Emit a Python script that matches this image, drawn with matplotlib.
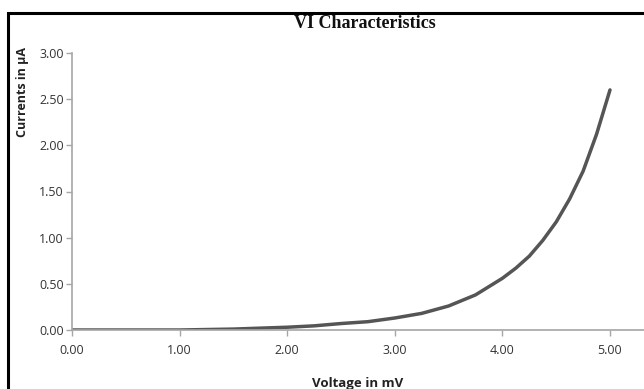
import matplotlib.pyplot as plt
from matplotlib.patches import Rectangle
from matplotlib.ticker import FormatStrFormatter, MultipleLocator

# values
voltage = [0.0, 0.5, 1.0, 1.5, 2.0, 2.25, 2.5, 2.75, 3.0, 3.25, 3.5, 3.75,
           4.0, 4.125, 4.25, 4.375, 4.5, 4.625, 4.75, 4.875, 5.0]
current = [0.00, 0.00, 0.00, 0.01, 0.03, 0.045, 0.07, 0.09, 0.13, 0.18, 0.26, 0.38,
           0.56, 0.67, 0.80, 0.97, 1.17, 1.42, 1.72, 2.12, 2.60]

W, H = 644, 389
fig = plt.figure(figsize=(W / 100, H / 100), dpi=100)

# black frame around the chart (cut off at the right and bottom)
fig.patches.append(Rectangle((8 / W, -0.2), 1.2, 1 - 13 / H + 0.2,
                             transform=fig.transFigure, fill=False,
                             edgecolor="black", linewidth=2.2, clip_on=False))

ax = fig.add_axes([72 / W, 1 - 330 / H, 572 / W, 277 / H])
ax.plot(voltage, current, color="#555555", linewidth=2.5, solid_capstyle="round")

ax.set_xlim(0, 572 / 107.6)
ax.set_ylim(0, 3.0)
ax.xaxis.set_major_locator(MultipleLocator(1.0))
ax.yaxis.set_major_locator(MultipleLocator(0.5))
ax.xaxis.set_major_formatter(FormatStrFormatter("%.2f"))
ax.yaxis.set_major_formatter(FormatStrFormatter("%.2f"))

for side in ["top", "right"]:
    ax.spines[side].set_visible(False)
for side in ["left", "bottom"]:
    ax.spines[side].set_color("#a6a6a6")
    ax.spines[side].set_linewidth(1.2)
ax.tick_params(colors="#a6a6a6", length=4, width=1, labelcolor="#333333",
               labelsize=9)
for lab in ax.get_xticklabels() + ax.get_yticklabels():
    lab.set_family("Open Sans")
ax.tick_params(axis="x", pad=6)
ax.tick_params(axis="y", pad=2)

ax.set_xlabel("Voltage in mV", fontsize=9.5, fontweight="bold",
              family="Open Sans", color="#222222")
ax.xaxis.set_label_coords(0.5, -0.17)
ax.set_ylabel("Currents in µA", fontsize=9, fontweight="bold",
              family="Open Sans", color="#222222")
ax.yaxis.set_label_coords(-0.076, 0.86)

fig.text(365 / W, 1 - 23 / H, "VI Characteristics", ha="center", va="center",
         fontsize=13, fontweight="bold", family="Liberation Serif", color="#111111")

plt.savefig("out.png", dpi=100)
